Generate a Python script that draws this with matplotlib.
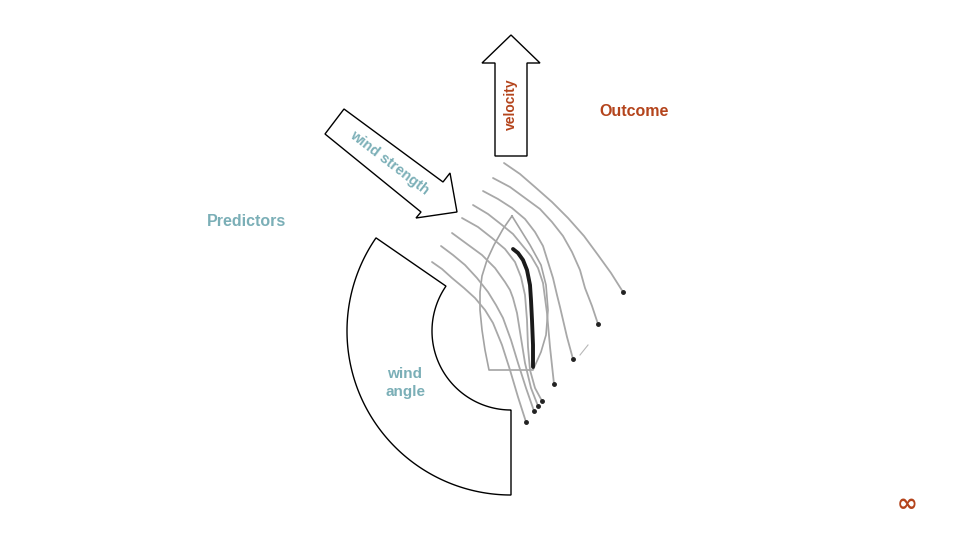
import numpy as np
import matplotlib
matplotlib.use("Agg")
import matplotlib.pyplot as plt
from matplotlib.patches import Polygon

TEAL = "#7BAFB7"
BROWN = "#B4441C"
FONT = ["Liberation Sans", "DejaVu Sans"]

# ---- diagram data (pixel coordinates, y measured from top) ----
labels = ["Predictors", "Outcome", "wind strength", "velocity", "wind\nangle"]

velocity_arrow_x = [511, 540, 527, 527, 495, 495, 482]
velocity_arrow_y = [35, 63, 63, 156, 156, 63, 63]

wind_arrow_x = [344, 443, 450, 457, 416, 421, 325]
wind_arrow_y = [109, 182, 173, 212, 218, 212, 134]

arc_center = (511, 331)
arc_radii = (79, 164)
arc_angles = (90.0, 214.6)   # degrees, screen orientation

hull_x = [512, 503, 494, 487, 482, 480, 480, 482, 485, 489, 533, 541, 546, 548, 546, 541, 530, 512]
hull_y = [216, 229, 245, 260, 276, 292, 310, 330, 350, 370, 370, 352, 335, 310, 285, 265, 245, 216]

sail_x = [513, 518, 523, 527, 530, 531, 532, 533, 533]
sail_y = [249, 253, 260, 270, 285, 300, 320, 345, 367]

stream_x = [
    [504, 520, 535, 552, 568, 584, 598, 611, 623],
    [493, 510, 525, 540, 552, 563, 572, 580, 585, 592, 598],
    [483, 498, 512, 525, 535, 543, 548, 553, 557, 560, 567, 573],
    [473, 488, 502, 513, 522, 531, 538, 543, 545, 547, 550, 554],
    [462, 478, 492, 505, 515, 521, 525, 527, 528, 530, 535, 542],
    [452, 467, 482, 495, 505, 510, 513, 517, 521, 525, 531, 538],
    [441, 453, 465, 477, 488, 496, 503, 511, 518, 526, 534],
    [432, 442, 452, 464, 475, 485, 493, 502, 510, 518, 526],
]
stream_y = [
    [163, 174, 187, 202, 218, 236, 255, 273, 292],
    [178, 187, 198, 209, 222, 236, 252, 270, 288, 306, 324],
    [191, 199, 208, 219, 232, 246, 262, 278, 295, 307, 337, 359],
    [205, 214, 225, 234, 245, 256, 268, 283, 298, 313, 347, 384],
    [218, 227, 238, 249, 262, 277, 295, 320, 347, 370, 388, 401],
    [233, 244, 255, 268, 282, 290, 298, 313, 338, 363, 388, 406],
    [246, 255, 265, 278, 292, 305, 318, 340, 363, 388, 411],
    [262, 269, 278, 288, 298, 310, 323, 345, 370, 397, 422],
]

fig = plt.figure(figsize=(9.6, 5.4), dpi=100)
ax = fig.add_axes([0, 0, 1, 1])
ax.set_xlim(0, 960)
ax.set_ylim(540, 0)
ax.axis("off")

# arrows
ax.add_patch(Polygon(np.column_stack([velocity_arrow_x, velocity_arrow_y]),
                     closed=True, fill=False, edgecolor="black", lw=1.0))
ax.add_patch(Polygon(np.column_stack([wind_arrow_x, wind_arrow_y]),
                     closed=True, fill=False, edgecolor="black", lw=1.0))

# wind angle annular sector
cx, cy = arc_center
r_in, r_out = arc_radii
th = np.radians(np.linspace(arc_angles[0], arc_angles[1], 200))
outer = np.column_stack([cx + r_out * np.cos(th), cy + r_out * np.sin(th)])
inner = np.column_stack([cx + r_in * np.cos(th[::-1]), cy + r_in * np.sin(th[::-1])])
ax.add_patch(Polygon(np.vstack([outer, inner]), closed=True, fill=False,
                     edgecolor="black", lw=1.0))

# hull
ax.plot(hull_x, hull_y, color="#a3a3a3", lw=1.2, solid_joinstyle="round")

# streamlines
for xs, ys in zip(stream_x, stream_y):
    ax.plot(xs, ys, color="#a8a8a8", lw=1.3, solid_capstyle="round",
            solid_joinstyle="round")
    ax.plot(xs[-1], ys[-1], "o", color="#222222", ms=2.5)
ax.plot([580, 588], [355, 345], color="#b8b8b8", lw=0.8)

# sail
ax.plot(sail_x, sail_y, color="#1a1a1a", lw=2.8, solid_capstyle="round")

# texts
ax.text(247, 221, labels[0], color=TEAL, fontsize=11.5, fontweight="bold",
        family=FONT, ha="center", va="center")
ax.text(634, 111, labels[1], color=BROWN, fontsize=11.5, fontweight="bold",
        family=FONT, ha="center", va="center")
ax.text(389, 163, labels[2], color=TEAL, fontsize=10.5, fontweight="bold",
        family=FONT, ha="center", va="center", rotation=-37.6,
        rotation_mode="anchor")
ax.text(511, 104, labels[3], color=BROWN, fontsize=10, fontweight="bold",
        family=FONT, ha="center", va="center", rotation=90,
        rotation_mode="anchor")
ax.text(405, 383, labels[4], color=TEAL, fontsize=11, fontweight="bold",
        family=FONT, ha="center", va="center", linespacing=1.45)
ax.text(907, 504, "\u221e", color=BROWN, fontsize=18, fontweight="bold",
        family=["DejaVu Sans"], ha="center", va="center")

fig.savefig("out.png", dpi=100)
